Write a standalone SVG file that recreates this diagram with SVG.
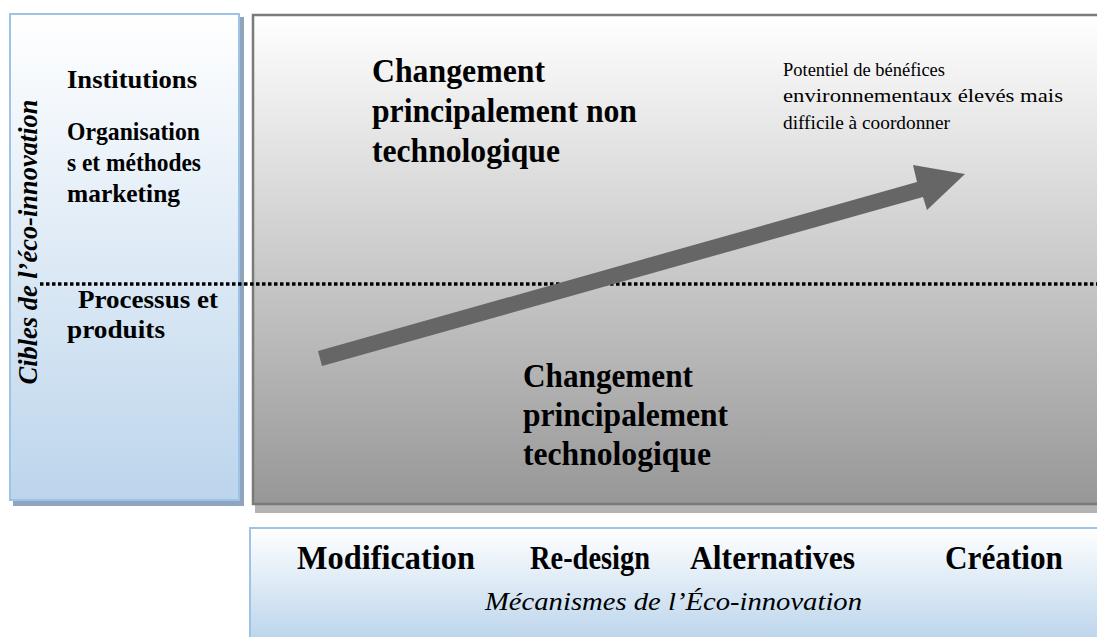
<svg xmlns="http://www.w3.org/2000/svg" width="1097" height="637" viewBox="0 0 1097 637">
<defs>
<linearGradient id="gBlue" x1="0" y1="0" x2="0" y2="1">
<stop offset="0" stop-color="#ffffff"/>
<stop offset="1" stop-color="#bcd5ec"/>
</linearGradient>
<linearGradient id="gGray" x1="0" y1="0" x2="0" y2="1">
<stop offset="0" stop-color="#ffffff"/>
<stop offset="1" stop-color="#979797"/>
</linearGradient>
<linearGradient id="gBlue2" x1="0" y1="0" x2="0" y2="1">
<stop offset="0" stop-color="#ffffff"/>
<stop offset="1" stop-color="#bcd5ec"/>
</linearGradient>
<style>
text{font-family:"Liberation Serif","Times New Roman",Times,serif;fill:#000}
.b{font-weight:bold}
.bi{font-weight:bold;font-style:italic}
.i{font-style:italic}
</style>
</defs>
<g id="targets">
<rect x="13" y="17" width="231" height="489" fill="#8fa4bd"/>
<rect x="10" y="14" width="229" height="486" fill="url(#gBlue)" stroke="#9dc3e6" stroke-width="2"/>
<text class="bi" font-size="27" transform="translate(37,242) rotate(-90)" text-anchor="middle" textLength="285" lengthAdjust="spacingAndGlyphs">Cibles de l’éco-innovation</text>
<text class="b" font-size="26" x="67" y="88" textLength="130" lengthAdjust="spacingAndGlyphs">Institutions</text>
<text class="b" font-size="26" x="67" y="140" textLength="133" lengthAdjust="spacingAndGlyphs">Organisation</text>
<text class="b" font-size="26" x="67" y="171" textLength="134" lengthAdjust="spacingAndGlyphs">s et méthodes</text>
<text class="b" font-size="26" x="67" y="202" textLength="113" lengthAdjust="spacingAndGlyphs">marketing</text>
<text class="b" font-size="26" x="78" y="308" textLength="140" lengthAdjust="spacingAndGlyphs">Processus et</text>
<text class="b" font-size="26" x="67" y="338" textLength="98" lengthAdjust="spacingAndGlyphs">produits</text>
</g>
<g id="changes">
<rect x="255" y="17" width="845" height="496" fill="#b3b3b3"/>
<rect x="253" y="15" width="846" height="489" fill="url(#gGray)" stroke="#7a7a7a" stroke-width="2.5"/>
<text class="b" font-size="33" x="372" y="82" textLength="173" lengthAdjust="spacingAndGlyphs">Changement</text>
<text class="b" font-size="33" x="372" y="122" textLength="265" lengthAdjust="spacingAndGlyphs">principalement non</text>
<text class="b" font-size="33" x="372" y="162" textLength="188" lengthAdjust="spacingAndGlyphs">technologique</text>
<text font-size="19" x="783" y="76" textLength="162" lengthAdjust="spacingAndGlyphs">Potentiel de bénéfices</text>
<text font-size="19" x="783" y="102" textLength="280" lengthAdjust="spacingAndGlyphs">environnementaux élevés mais</text>
<text font-size="19" x="783" y="129" textLength="167" lengthAdjust="spacingAndGlyphs">difficile à coordonner</text>
<text class="b" font-size="33" x="523" y="387" textLength="170" lengthAdjust="spacingAndGlyphs">Changement</text>
<text class="b" font-size="33" x="523" y="426" textLength="205" lengthAdjust="spacingAndGlyphs">principalement</text>
<text class="b" font-size="33" x="523" y="465" textLength="188" lengthAdjust="spacingAndGlyphs">technologique</text>
</g>
<g id="mechanisms">
<rect x="250" y="528" width="850" height="112" fill="url(#gBlue2)" stroke="#9dc3e6" stroke-width="2"/>
<text class="b" font-size="33" x="297" y="569" textLength="178" lengthAdjust="spacingAndGlyphs">Modification</text>
<text class="b" font-size="33" x="530" y="569" textLength="120" lengthAdjust="spacingAndGlyphs">Re-design</text>
<text class="b" font-size="33" x="690" y="569" textLength="165" lengthAdjust="spacingAndGlyphs">Alternatives</text>
<text class="b" font-size="33" x="945" y="569" textLength="118" lengthAdjust="spacingAndGlyphs">Création</text>
<text class="i" font-size="26" x="485" y="610" textLength="377" lengthAdjust="spacingAndGlyphs">Mécanismes de l’Éco-innovation</text>
</g>
<g id="connectors">
<line x1="40" y1="284" x2="1097" y2="284" stroke="#000" stroke-width="3.5" stroke-dasharray="3.5 2.5"/>
<polygon points="318,351 917,182 913,165 965,174 927,210 923,197 322,366" fill="#666666"/>
</g>
</svg>
